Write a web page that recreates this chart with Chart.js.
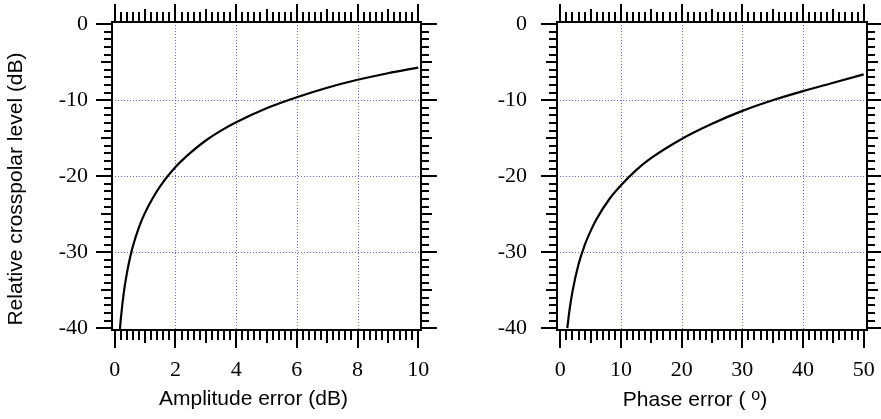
<!DOCTYPE html>
<html>
<head>
<meta charset="utf-8">
<title>Crosspolar level vs amplitude and phase error</title>
<script src="https://cdn.jsdelivr.net/npm/chart.js@4"></script>
<style>
  html, body { margin: 0; padding: 0; background: #fff; }
  #wrap { position: relative; width: 881px; height: 419px; }
  canvas { position: absolute; top: 0; }
  #ampChart { left: 0; }
  #phaseChart { left: 440px; }
</style>
</head>
<body>
<div id="wrap">
  <canvas id="ampChart" width="440" height="419"></canvas>
  <canvas id="phaseChart" width="441" height="419"></canvas>
</div>
<script>
// amplitude imbalance (dB) -> relative crosspolar level (dB)
var ampErr  = [0.17, 0.2, 0.3, 0.4, 0.5, 0.6, 0.8, 1, 1.25, 1.5, 2, 2.5, 3, 3.5, 4, 5, 6, 7, 8, 9, 10];
var ampXpol = [-40.2, -38.8, -35.3, -32.8, -30.8, -29.2, -26.7, -24.8, -22.9, -21.3, -18.8, -16.9, -15.3, -14.0, -12.9, -11.05, -9.6, -8.35, -7.3, -6.45, -5.7];

// phase imbalance (deg) -> relative crosspolar level (dB)
var phaseErr  = [1.15, 1.5, 2, 3, 4, 5, 6, 8, 10, 12.5, 15, 20, 25, 30, 35, 40, 45, 50];
var phaseXpol = [-40.0, -37.7, -35.2, -31.6, -29.1, -27.2, -25.6, -23.1, -21.2, -19.2, -17.6, -15.1, -13.1, -11.4, -10.0, -8.8, -7.7, -6.6];

var ampTicks   = [0, 2, 4, 6, 8, 10];
var phaseTicks = [0, 10, 20, 30, 40, 50];
var levelTicks = [-40, -30, -20, -10, 0];

var SERIF = "'Liberation Serif', 'Times New Roman', serif";
var SANS  = "'Liberation Sans', Arial, Helvetica, sans-serif";

function isMult(v, m) {
  var r = v / m;
  return Math.abs(r - Math.round(r)) < 1e-6;
}

function line(ctx, x1, y1, x2, y2) {
  ctx.beginPath();
  ctx.moveTo(x1, y1);
  ctx.lineTo(x2, y2);
  ctx.stroke();
}

// minor / mid / major tick marks on both sides of an axis, pointing outward
function drawTicks(ctx, scale, step, mid, major, lens, a) {
  var lo = scale.ticks[0].value, hi = scale.ticks[scale.ticks.length - 1].value;
  var n = Math.round((hi - lo) / step);
  ctx.lineWidth = 2;
  for (var i = 0; i <= n; i++) {
    var v = lo + i * step;
    var len = isMult(v, major) ? lens[2] : isMult(v, mid) ? lens[1] : lens[0];
    var p = Math.round(scale.getPixelForValue(v));
    if (scale.isHorizontal()) {
      line(ctx, p, a.bottom, p, a.bottom + len);
      line(ctx, p, a.top, p, a.top - len);
    } else {
      line(ctx, a.left, p, a.left - len, p);
      line(ctx, a.right, p, a.right + len, p);
    }
  }
}

var frameTicks = {
  id: 'frameTicks',
  beforeDatasetsDraw: function (chart) {
    var a = chart.chartArea, ctx = chart.ctx;
    var xs = chart.scales.x, ys = chart.scales.y;
    ctx.save();
    ctx.strokeStyle = '#5a73c8';
    ctx.lineWidth = 1;
    ctx.setLineDash([1, 2]);
    xs.ticks.forEach(function (t, i) {
      if (i === 0 || i === xs.ticks.length - 1) return;
      var px = Math.round(xs.getPixelForValue(t.value)) + 0.5;
      line(ctx, px, a.top, px, a.bottom);
    });
    ys.ticks.forEach(function (t, i) {
      if (i === 0 || i === ys.ticks.length - 1) return;
      var py = Math.round(ys.getPixelForValue(t.value)) + 0.5;
      line(ctx, a.left, py, a.right, py);
    });
    ctx.restore();
  },
  afterDatasetsDraw: function (chart, args, o) {
    var a = chart.chartArea, ctx = chart.ctx;
    ctx.save();
    ctx.strokeStyle = '#000';
    ctx.lineWidth = 2;
    ctx.strokeRect(a.left, a.top, a.right - a.left, a.bottom - a.top);
    drawTicks(ctx, chart.scales.x, o.xStep, o.xMid, o.xMajor, [10, 13, 18], a);
    drawTicks(ctx, chart.scales.y, 1, 5, 10, [8, 11, 16], a);
    ctx.restore();
  },
  afterDraw: function (chart, args, o) {
    var a = chart.chartArea, ctx = chart.ctx;
    ctx.save();
    ctx.fillStyle = '#000';
    ctx.textBaseline = 'alphabetic';
    // x title, with optional raised part (degree-like "o")
    var parts = o.xTitle;
    var widths = parts.map(function (p) {
      ctx.font = p.size + 'px ' + SANS;
      return ctx.measureText(p.text).width;
    });
    var total = widths.reduce(function (s, w) { return s + w; }, 0);
    var x = (a.left + a.right) / 2 + o.xTitleShift - total / 2;
    parts.forEach(function (p, i) {
      ctx.font = p.size + 'px ' + SANS;
      ctx.textAlign = 'left';
      ctx.fillText(p.text, x, o.xTitleY - (p.rise || 0));
      x += widths[i];
    });
    if (o.yTitle) {
      ctx.font = '21px ' + SANS;
      ctx.textAlign = 'center';
      ctx.translate(o.yTitleX, (a.top + a.bottom) / 2 + o.yTitleShift);
      ctx.rotate(-Math.PI / 2);
      ctx.fillText(o.yTitle, 0, 0);
    }
    ctx.restore();
  }
};

function toPoints(xs, ys) {
  return xs.map(function (v, i) { return { x: v, y: ys[i] }; });
}

function makeChart(id, xVals, yVals, xTicks, xMin, xMax, cfg) {
  return new Chart(document.getElementById(id), {
    type: 'scatter',
    data: {
      datasets: [{
        data: toPoints(xVals, yVals),
        showLine: true,
        borderColor: '#000',
        borderWidth: 2.2,
        pointRadius: 0,
        cubicInterpolationMode: 'monotone'
      }]
    },
    options: {
      responsive: false,
      animation: false,
      events: [],
      layout: { padding: { left: 0, top: 22, right: cfg.padRight, bottom: 0 } },
      plugins: {
        legend: { display: false },
        tooltip: { enabled: false },
        frameTicks: cfg.frame
      },
      scales: {
        x: {
          type: 'linear',
          min: xMin,
          max: xMax,
          grid: { display: false, drawTicks: false },
          border: { display: false },
          afterBuildTicks: function (s) {
            s.ticks = xTicks.map(function (v) { return { value: v }; });
          },
          afterFit: function (s) {
            s.height = 89;
            s.paddingLeft = s.paddingRight = 0;
          },
          ticks: {
            padding: 27,
            maxRotation: 0,
            color: '#000',
            font: { family: SERIF, size: 22 },
            callback: function (v) { return String(v); }
          }
        },
        y: {
          type: 'linear',
          min: -40.25,
          max: 0.3,
          grid: { display: false, drawTicks: false },
          border: { display: false },
          afterBuildTicks: function (s) {
            s.ticks = levelTicks.map(function (v) { return { value: v }; });
          },
          afterFit: function (s) {
            s.width = cfg.yWidth;
            s.paddingTop = s.paddingBottom = 0;
          },
          ticks: {
            padding: cfg.yLabelPad,
            color: '#000',
            font: { family: SERIF, size: 22 },
            callback: function (v) { return String(v); }
          }
        }
      }
    },
    plugins: [frameTicks]
  });
}

makeChart('ampChart', ampErr, ampXpol, ampTicks, -0.09, 10.09, {
  padRight: 19,
  yWidth: 112,
  yLabelPad: 24,
  frame: {
    xStep: 0.2, xMid: 1, xMajor: 2,
    xTitle: [{ text: 'Amplitude error (dB)', size: 21 }],
    xTitleShift: -13,
    xTitleY: 405,
    yTitle: 'Relative crosspolar level (dB)',
    yTitleX: 21.5,
    yTitleShift: 13
  }
});

makeChart('phaseChart', phaseErr, phaseXpol, phaseTicks, -0.55, 50.55, {
  padRight: 14,
  yWidth: 117,
  yLabelPad: 30,
  frame: {
    xStep: 1, xMid: 5, xMajor: 10,
    xTitle: [
      { text: 'Phase error ( ', size: 21 },
      { text: 'o', size: 16, rise: 6 },
      { text: ')', size: 21 }
    ],
    xTitleShift: -17,
    xTitleY: 406
  }
});
</script>
</body>
</html>
